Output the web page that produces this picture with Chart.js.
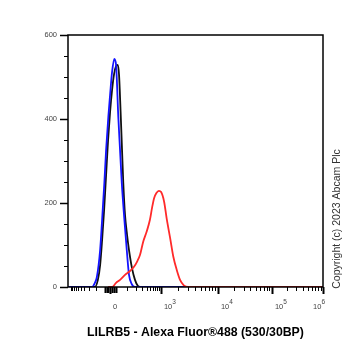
<!DOCTYPE html>
<html><head><meta charset="utf-8">
<script src="https://cdn.jsdelivr.net/npm/chart.js@4"></script>
<style>html,body{margin:0;padding:0;background:#fff;}</style>
</head><body>
<canvas id="c" width="358" height="358"></canvas>
<script>
// x data are display channels (0..1024) of the biexponential axis
const blueX  = [0, 96,108,116,129,137,146,153,162,169,177,186,193,202,209,216,225,236,245,256,269,1024];
const blueY  = [0, 0, 10, 24, 88,160,248,326,405,457,512,543,529,405,326,248,171, 88, 29,  7,  0,   0];
const blackX = [0,108,120,129,137,145,153,161,169,177,185,193,200,205,211,217,222,229,237,245,257,269,281,289,1024];
const blackY = [0,  0, 17, 52,112,183,267,350,417,469,507,526,529,505,421,326,248,171,125, 88, 45, 17,  2,  0,   0];
const redX   = [161,177,193,209,229,249,265,277,289,302,316,329,338,346,355,365,374,386,396,410,423,437,450,465,482,1024];
const redY   = [  0,  0, 10, 17, 29, 38, 48, 60, 76,108,132,160,190,212,224,229,226,203,164,117, 72, 40, 17,  4,  0,   0];

const xTickValues = [0, 1e3, 1e4, 1e5, 1e6];
const xTickBase   = ['0', '10', '10', '10', '10'];
const xTickExp    = ['', '3', '4', '5', '6'];
const yTickLabels = [0, 200, 400, 600];
const xTitle = 'LILRB5 - Alexa Fluor®488 (530/30BP)';
const copyright = 'Copyright (c) 2023 Abcam Plc';

// biexponential display transform: value -> channel
const CH_ZERO = 169, CH_DEC = {3: 373, 4: 602, 5: 819, 6: 1024};
function chan(v) {
  if (v >= 1000) {
    const l = Math.log10(v), k = Math.min(5, Math.floor(l));
    return CH_DEC[k] + (CH_DEC[k + 1] - CH_DEC[k]) * (l - k);
  }
  const f = Math.asinh(Math.abs(v) / 75) / Math.asinh(1000 / 75) * (CH_DEC[3] - CH_ZERO);
  return v >= 0 ? CH_ZERO + f : CH_ZERO - 0.8 * f;
}
function xTickList() {
  const t = [];
  for (const v of xTickValues) t.push({value: chan(v), kind: 'major'});
  for (let v = -900; v <= -100; v += 100) t.push({value: chan(v), kind: 'minor'});
  for (let v = -30; v <= 30; v += 10) if (v) t.push({value: chan(v), kind: 'dense'});
  for (let v = 100; v <= 900; v += 100) t.push({value: chan(v), kind: 'minor'});
  for (let k = 3; k <= 5; k++) for (let m = 2; m <= 9; m++) t.push({value: chan(m * Math.pow(10, k)), kind: 'minor'});
  return t.filter(o => o.value >= 0 && o.value <= 1024);
}
const pts = (xs, ys) => xs.map((x, i) => ({x, y: ys[i]}));

const decor = {
  id: 'decor',
  afterDraw(chart) {
    const {ctx, chartArea: a, scales: {x, y}} = chart;
    ctx.save();
    ctx.strokeStyle = '#000';
    // x ticks
    for (const t of x.ticks) {
      const px = Math.round(x.getPixelForValue(t.value)) + 0.5;
      const len = t.kind === 'major' ? 7 : (t.kind === 'dense' ? 6 : 4);
      ctx.lineWidth = t.kind === 'minor' ? 1 : 2;
      ctx.beginPath(); ctx.moveTo(px, a.bottom); ctx.lineTo(px, a.bottom + len); ctx.stroke();
    }
    // y ticks
    for (const t of y.ticks) {
      const py = Math.round(y.getPixelForValue(t.value)) + 0.5;
      const major = yTickLabels.includes(t.value);
      ctx.lineWidth = major ? 1.5 : 1;
      ctx.beginPath(); ctx.moveTo(a.left, py); ctx.lineTo(a.left - (major ? 8 : 4), py); ctx.stroke();
    }
    // frame
    ctx.lineWidth = 1.5;
    ctx.strokeRect(a.left, a.top, a.right - a.left, a.bottom - a.top);
    // x tick labels
    ctx.fillStyle = '#444';
    ctx.textBaseline = 'middle';
    ctx.textAlign = 'left';
    const fb = '7.5px "Liberation Sans", Arial, sans-serif';
    const fe = '6.5px "Liberation Sans", Arial, sans-serif';
    xTickValues.forEach((v, i) => {
      const px = x.getPixelForValue(chan(v));
      ctx.font = fb;
      const wb = ctx.measureText(xTickBase[i]).width;
      ctx.font = fe;
      const we = ctx.measureText(xTickExp[i]).width;
      const lx = Math.min(px + 3, a.right + 2 - wb - we);
      ctx.font = fb;
      ctx.fillText(xTickBase[i], lx, a.bottom + 20);
      ctx.font = fe;
      ctx.fillText(xTickExp[i], lx + wb, a.bottom + 15);
    });
    // copyright
    ctx.fillStyle = '#333';
    ctx.font = '10.5px "Liberation Sans", Arial, sans-serif';
    ctx.translate(337, 219);
    ctx.rotate(-Math.PI / 2);
    ctx.textAlign = 'center';
    ctx.fillText(copyright, 0, 0);
    ctx.restore();
  }
};

new Chart(document.getElementById('c'), {
  type: 'line',
  data: {
    datasets: [
      {label: 'stained', data: pts(redX, redY), borderColor: '#ff2a2a'},
      {label: 'isotype', data: pts(blueX, blueY), borderColor: '#1414ff'},
      {label: 'unstained', data: pts(blackX, blackY), borderColor: '#111111'}
    ]
  },
  options: {
    responsive: false,
    animation: false,
    devicePixelRatio: 1,
    layout: {padding: {left: 0, top: 35, right: 35, bottom: 0}},
    elements: {
      point: {radius: 0},
      line: {borderWidth: 1.8, fill: false, cubicInterpolationMode: 'monotone'}
    },
    plugins: {legend: {display: false}, tooltip: {enabled: false}},
    scales: {
      x: {
        type: 'linear', min: 0, max: 1024,
        afterBuildTicks: s => { s.ticks = xTickList(); },
        afterFit: s => { s.height = 71; },
        grid: {display: false, drawTicks: false},
        border: {display: false},
        ticks: {display: false},
        title: {display: true, text: xTitle, color: '#000',
                font: {family: '"Liberation Sans", Arial, sans-serif', size: 12.3, weight: 'bold'},
                padding: {top: 0, bottom: 18}}
      },
      y: {
        type: 'linear', min: 0, max: 600,
        afterFit: s => { s.width = 68; },
        grid: {display: false, drawTicks: false},
        border: {display: false},
        ticks: {stepSize: 50, padding: 11, color: '#444',
                font: {family: '"Liberation Sans", Arial, sans-serif', size: 7.5},
                callback: v => yTickLabels.includes(v) ? String(v) : ''}
      }
    }
  },
  plugins: [decor]
});
</script>
</body></html>
